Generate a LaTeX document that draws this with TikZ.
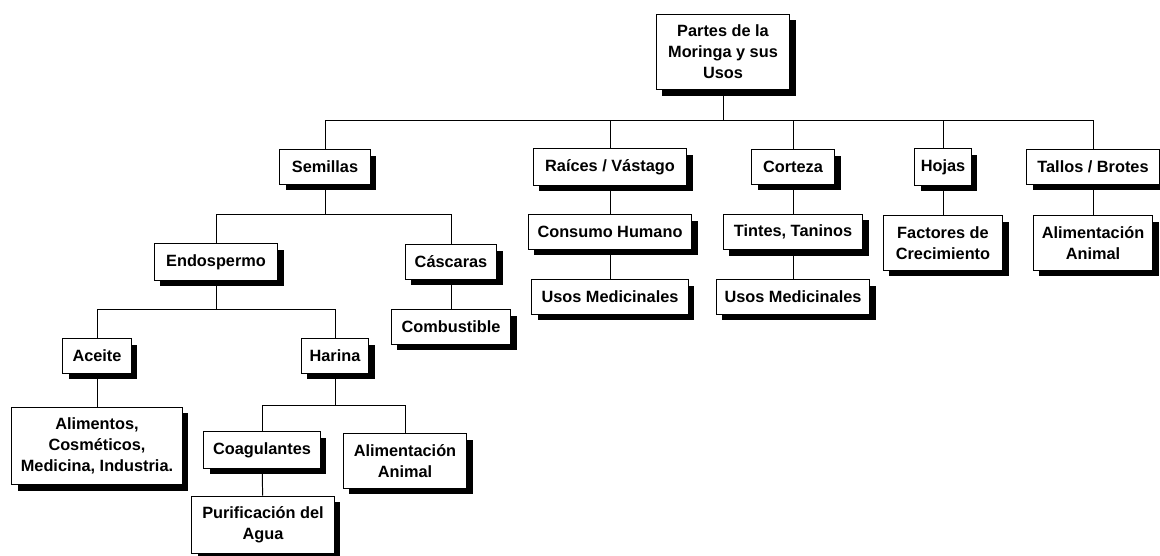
\documentclass[tikz,border=0pt]{standalone}
\usepackage{fontspec}
\setmainfont{Liberation Sans}
\usetikzlibrary{shadows}
\begin{document}
\begin{tikzpicture}[x=0.025cm, y=-0.025cm,
    caja/.style={draw, fill=white, line width=0.7pt, align=center,
        font=\fontsize{11.6}{15}\selectfont\bfseries,
        inner xsep=2pt, inner ysep=7.5pt, minimum height=24.8pt, minimum width=#1,
        drop shadow={shadow xshift=4.3pt, shadow yshift=-4.3pt, fill=black, opacity=1}},
    caja/.default=40pt,
    rama/.style={line width=0.7pt}]
        \useasboundingbox (0,0) rectangle (1160,556);

        % Raiz
        \node[caja=95pt] (raiz) at (723, 52) {Partes de la\\Moringa y sus\\Usos};

        % Partes principales
        \node[caja=64.5pt] (semillas) at (325, 167) {Semillas};
        \node[caja=109pt] (raices) at (610, 167) {Raíces / Vástago};
        \node[caja=59pt] (corteza) at (793, 167) {Corteza};
        \node[caja=40pt] (hojas) at (943, 167) {Hojas};
        \node[caja=94pt] (tallos) at (1093, 167) {Tallos / Brotes};

        % Semillas
        \node[caja=88pt] (endospermo) at (216, 262) {Endospermo};
        \node[caja=65pt] (cascaras) at (451, 262) {Cáscaras};
        \node[caja=85pt] (combustible) at (451, 327) {Combustible};
        \node[caja=49pt] (aceite) at (97, 356) {Aceite};
        \node[caja=48pt] (harina) at (335, 356) {Harina};
        \node[caja=121pt] (alimentos) at (97, 446) {Alimentos,\\Cosméticos,\\Medicina, Industria.};
        \node[caja=83pt] (coagulantes) at (262, 450) {Coagulantes};
        \node[caja=88pt] (alimharina) at (405, 461) {Alimentación\\Animal};
        \node[caja=101pt] (purificacion) at (263, 525) {Purificación del\\Agua};

        % Raices, corteza, hojas, tallos
        \node[caja=116pt] (consumo) at (610, 232) {Consumo Humano};
        \node[caja=111pt] (usosraices) at (610, 297) {Usos Medicinales};
        \node[caja=99pt] (tintes) at (793, 232) {Tintes, Taninos};
        \node[caja=109pt] (usoscorteza) at (793, 297) {Usos Medicinales};
        \node[caja=85pt] (factores) at (943, 243) {Factores de\\Crecimiento};
        \node[caja=85pt] (alimtallos) at (1093, 243) {Alimentación\\Animal};

        % Conectores
        \coordinate (b0) at (723, 120);
        \draw[rama] (raiz) -- (b0);
        \foreach \n in {semillas, raices, corteza, hojas, tallos}
            \draw[rama] (b0) -| (\n);

        \coordinate (b1) at (325, 214);
        \draw[rama] (semillas) -- (b1);
        \draw[rama] (b1) -| (endospermo);
        \draw[rama] (b1) -| (cascaras);
        \draw[rama] (cascaras) -- (combustible);

        \coordinate (b2) at (216, 309);
        \draw[rama] (endospermo) -- (b2);
        \draw[rama] (b2) -| (aceite);
        \draw[rama] (b2) -| (harina);
        \draw[rama] (aceite) -- (alimentos);

        \coordinate (b3) at (335, 405);
        \draw[rama] (harina) -- (b3);
        \draw[rama] (b3) -| (coagulantes);
        \draw[rama] (b3) -| (alimharina);
        \draw[rama] (coagulantes) -- (purificacion);

        \draw[rama] (raices) -- (consumo);
        \draw[rama] (consumo) -- (usosraices);
        \draw[rama] (corteza) -- (tintes);
        \draw[rama] (tintes) -- (usoscorteza);
        \draw[rama] (hojas) -- (factores);
        \draw[rama] (tallos) -- (alimtallos);
    \end{tikzpicture}
\end{document}
